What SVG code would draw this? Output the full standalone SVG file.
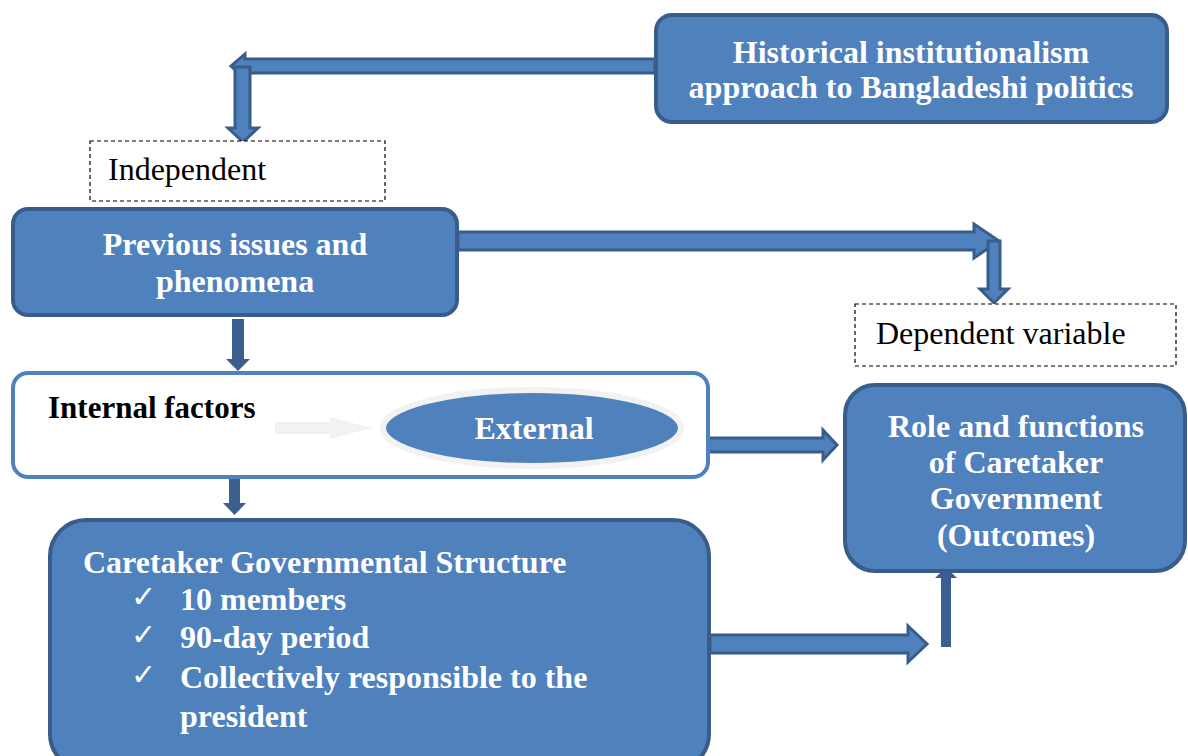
<svg xmlns="http://www.w3.org/2000/svg" width="1188" height="756" viewBox="0 0 1188 756">
<style>
.node{fill:#4F81BD;stroke:#385D8A;stroke-width:4}
.ttl{font-family:"Liberation Serif",serif;font-weight:bold;fill:#fff;font-size:32px}
.lbl{font-family:"Liberation Serif",serif;fill:#000;font-size:32px}
.dash{fill:#fff;stroke:#000;stroke-width:1.2;stroke-dasharray:4 3}
.blk{fill:#4F81BD;stroke:#385D8A;stroke-width:3;stroke-linejoin:miter}
.solid{fill:#3B5F8E;stroke:none}
.chk{font-family:"DejaVu Sans",sans-serif;fill:#fff;font-size:30px}
</style>
<rect width="1188" height="756" fill="#fff"/>
<g id="connectors">
  <polygon class="blk" points="655,59 245,59 245,54 231,66 245,79 245,73 655,73"/>
  <polygon class="blk" points="235,67 250,67 250,128 258,128 243,142 228,128 235,128"/>
  <polygon class="blk" points="458,232 974,232 974,224 999,241 974,258 974,250 458,250"/>
  <polygon class="blk" points="988,241 1000,241 1000,289 1008,289 994,303 980,289 988,289"/>
  <polygon class="solid" points="232,319 244,319 244,359 250,359 238,371 226,359 232,359"/>
  <polygon class="solid" points="229,476 240,476 240,503 246,503 234.5,515 223,503 229,503"/>
  <polygon class="blk" points="708,438 823,438 823,430 837,445 823,460 823,452 708,452"/>
  <polygon class="blk" points="710,635 908,635 908,626 927,644 908,662 908,653 710,653"/>
  <polygon class="solid" points="941,647 951,647 951,578 957,578 946,567 935,578 941,578"/>
</g>
<g id="historical">
  <rect class="node" x="656" y="15" width="511" height="107" rx="16"/>
  <text class="ttl" x="911" y="63" text-anchor="middle">Historical institutionalism</text>
  <text class="ttl" x="911" y="98" text-anchor="middle">approach to Bangladeshi politics</text>
</g>
<g id="independent">
  <rect class="dash" x="90" y="141" width="295" height="60"/>
  <text class="lbl" x="108" y="180">Independent</text>
</g>
<g id="previous">
  <rect class="node" x="13" y="209" width="444" height="106" rx="15"/>
  <text class="ttl" x="235" y="255" text-anchor="middle">Previous issues and</text>
  <text class="ttl" x="235" y="292" text-anchor="middle">phenomena</text>
</g>
<g id="dependent">
  <rect class="dash" x="855" y="304" width="321" height="62"/>
  <text class="lbl" x="876" y="344">Dependent variable</text>
</g>
<g id="factors">
  <rect x="13" y="373" width="695" height="104" rx="15" fill="#fff" stroke="#4F81BD" stroke-width="4"/>
  <text x="48" y="418" font-family="Liberation Serif,serif" font-weight="bold" font-size="31" fill="#000">Internal factors</text>
  <polygon points="275,422 330,422 330,417 372,428 330,439 330,434 275,434" fill="#F2F2F2"/>
  <ellipse cx="532" cy="428" rx="149" ry="38" fill="#4F81BD" stroke="#F2F2F2" stroke-width="6"/>
  <text class="ttl" x="534" y="439" text-anchor="middle">External</text>
</g>
<g id="role">
  <rect class="node" x="845" y="385" width="340" height="186" rx="30"/>
  <text class="ttl" x="1016" y="437" text-anchor="middle">Role and functions</text>
  <text class="ttl" x="1016" y="473" text-anchor="middle">of Caretaker</text>
  <text class="ttl" x="1016" y="509" text-anchor="middle">Government</text>
  <text class="ttl" x="1016" y="546" text-anchor="middle">(Outcomes)</text>
</g>
<g id="structure">
  <rect class="node" x="50" y="520" width="659" height="250" rx="36"/>
  <text class="ttl" x="83" y="573">Caretaker Governmental Structure</text>
  <text class="chk" x="131" y="607">✓</text>
  <text class="ttl" x="180" y="610">10 members</text>
  <text class="chk" x="131" y="645">✓</text>
  <text class="ttl" x="180" y="648">90-day period</text>
  <text class="chk" x="131" y="685">✓</text>
  <text class="ttl" x="180" y="688">Collectively responsible to the</text>
  <text class="ttl" x="180" y="727">president</text>
</g>
</svg>
